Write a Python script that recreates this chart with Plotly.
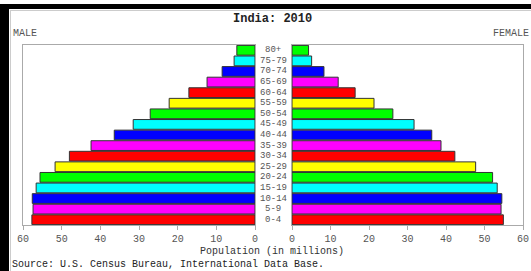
import plotly.graph_objects as go

W, H = 531, 271

ages = ["0-4", "5-9", "10-14", "15-19", "20-24", "25-29", "30-34", "35-39",
        "40-44", "45-49", "50-54", "55-59", "60-64", "65-69", "70-74", "75-79", "80+"]
male = [57.7, 57.4, 57.6, 56.6, 55.6, 51.7, 48.0, 42.4, 36.4, 31.5, 27.1, 22.2,
        17.1, 12.4, 8.5, 5.4, 4.7]
female = [54.9, 54.3, 54.5, 53.3, 52.1, 47.7, 42.3, 38.7, 36.3, 31.7, 26.2, 21.3,
          16.4, 12.0, 8.3, 5.1, 4.3]
palette = ["#ff0000", "#ff00ff", "#0000ff", "#00ffff", "#00ff00", "#ffff00"]
colors = [palette[i % 6] for i in range(len(ages))]
ticks = [0, 10, 20, 30, 40, 50, 60]

def px(x):
    return x / W

def py(y):
    return 1 - y / H

fig = go.Figure()
fig.add_trace(go.Bar(x=male, y=ages, orientation="h", xaxis="x", yaxis="y",
                     marker=dict(color=colors, line=dict(color="#333333", width=1)),
                     showlegend=False, hoverinfo="skip"))
fig.add_trace(go.Bar(x=female, y=ages, orientation="h", xaxis="x2", yaxis="y2",
                     marker=dict(color=colors, line=dict(color="#333333", width=1)),
                     showlegend=False, hoverinfo="skip"))

mono = "Liberation Mono"
axfont = dict(family=mono, size=10, color="#555555")
common_x = dict(tickmode="array", tickvals=ticks, ticktext=[str(t) for t in ticks],
                showline=True, mirror=True, linecolor="#aaaaaa", linewidth=1,
                ticks="outside", ticklen=4, tickcolor="#aaaaaa", showgrid=False,
                zeroline=False, tickfont=axfont, fixedrange=True, automargin=False)
common_y = dict(type="category", categoryorder="array", categoryarray=ages,
                range=[-0.5, len(ages) - 0.5], showticklabels=False,
                showline=True, mirror=True, linecolor="#aaaaaa", linewidth=1,
                showgrid=False, zeroline=False, ticks="", fixedrange=True, automargin=False)

fig.update_layout(
    width=W, height=H, margin=dict(l=0, r=0, t=0, b=0, pad=0, autoexpand=False),
    paper_bgcolor="black", plot_bgcolor="white", bargap=0.08,
    xaxis=dict(domain=[px(23), px(255)], range=[60, 0], anchor="y", **common_x),
    xaxis2=dict(domain=[px(292), px(523)], range=[0, 60], anchor="y2", **common_x),
    yaxis=dict(domain=[py(225), py(45)], anchor="x", **common_y),
    yaxis2=dict(domain=[py(225), py(45)], anchor="x2", **common_y),
)

# white canvas inside the black L-shaped border, and blank strip above it
fig.add_shape(type="rect", xref="paper", yref="paper", x0=px(9), x1=1, y0=0, y1=py(9),
              fillcolor="white", line=dict(width=0), layer="below")
fig.add_shape(type="rect", xref="paper", yref="paper", x0=0, x1=1, y0=py(4), y1=1,
              fillcolor="white", line=dict(width=0), layer="below")
fig.add_shape(type="line", xref="paper", yref="paper", x0=px(10.5), x1=px(10.5), y0=0, y1=py(10),
              line=dict(color="#cccccc", width=1), layer="below")
fig.add_shape(type="line", xref="paper", yref="paper", x0=px(10), x1=1, y0=py(10.5), y1=py(10.5),
              line=dict(color="#cccccc", width=1), layer="below")

for a in ages:
    fig.add_annotation(x=px(273), y=a, xref="paper", yref="y", text=a, showarrow=False,
                       font=dict(family=mono, size=9, color="#555555"),
                       xanchor="center", yanchor="middle")

texts = [
    ("<b>India: 2010</b>", 272, 19, "center", 12, "#222222"),
    ("MALE", 11, 34, "left", 10, "#555555"),
    ("FEMALE", 531, 34, "right", 10, "#555555"),
    ("Population (in millions)", 272, 251, "center", 10, "#333333"),
    ("Source: U.S. Census Bureau, International Data Base.", 10, 264, "left", 10, "#222222"),
]
for t, x, y, anc, sz, col in texts:
    fig.add_annotation(x=px(x), y=py(y), xref="paper", yref="paper", text=t,
                       showarrow=False, xanchor=anc, yanchor="middle",
                       font=dict(family=mono, size=sz, color=col))

post = ("document.body.style.margin='0';document.body.style.padding='0';"
        "document.body.style.overflow='hidden';"
        "document.documentElement.style.overflow='hidden';"
        "var gd=document.getElementById('{plot_id}');"
        "Plotly.relayout(gd,{width:%d,height:%d});" % (W, H))
fig.write_html("out.html", post_script=post, config={"displayModeBar": False, "staticPlot": True})
